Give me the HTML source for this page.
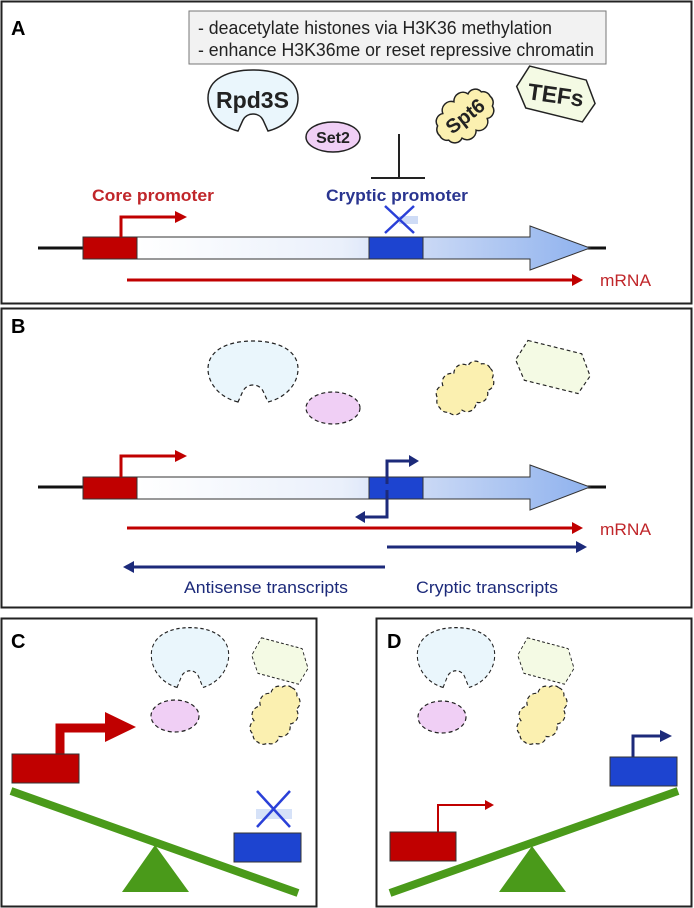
<!DOCTYPE html>
<html><head><meta charset="utf-8"><style>html,body{margin:0;padding:0;background:#fff}svg{display:block}text{font-family:"Liberation Sans",Arial,sans-serif}</style></head>
<body>
<svg width="694" height="908" viewBox="0 0 694 908" xmlns="http://www.w3.org/2000/svg">
<defs>
<linearGradient id="gb" x1="0" x2="1" y1="0" y2="0">
<stop offset="0" stop-color="#ffffff"/><stop offset="0.45" stop-color="#eaf0fb"/><stop offset="0.6" stop-color="#cfdcf6"/><stop offset="1" stop-color="#8fb2ee"/>
</linearGradient>
<path id="pac" d="M-15,30 C-35,25 -45,10 -45,-3 C-45,-22 -25,-31 0,-31 C25,-31 45,-22 45,-3 C45,10 35,25 15,30 L10,19 C6,11 -6,11 -10,19 Z"/>
<path id="cloud" d="M32,0 A8,8 0 0 1 27.7,9 A8,8 0 0 1 16,15.6 A9,9 0 0 1 0,18 A9,9 0 0 1 -16,15.6 A8,8 0 0 1 -27.7,9 A8,8 0 0 1 -32,0 A8,8 0 0 1 -27.7,-9 A8,8 0 0 1 -16,-15.6 A9,9 0 0 1 0,-18 A9,9 0 0 1 16,-15.6 A8,8 0 0 1 27.7,-9 A8,8 0 0 1 32,0 Z"/>
<path id="hex" d="M-30,-24 L28,-18 L40,4 L30,24 L-28,18 L-40,-2 Z"/>
</defs>

<!-- Panel A -->
<rect x="1.5" y="1.5" width="690" height="302" fill="#fff" stroke="#222" stroke-width="2"/>
<text x="11" y="35" font-size="20" font-weight="bold">A</text>
<rect x="189" y="11" width="417" height="53" fill="#f2f2f2" stroke="#777" stroke-width="1"/>
<text x="198" y="34" font-size="18" fill="#222" textLength="354" lengthAdjust="spacingAndGlyphs">- deacetylate histones via H3K36 methylation</text>
<text x="198" y="56" font-size="18" fill="#222" textLength="396" lengthAdjust="spacingAndGlyphs">- enhance H3K36me or reset repressive chromatin</text>
<use href="#pac" transform="translate(253,101)" fill="#eaf6fc" stroke="#222" stroke-width="1.5"/>
<text x="216" y="108" font-size="23" font-weight="bold" fill="#222" textLength="73" lengthAdjust="spacingAndGlyphs">Rpd3S</text>
<ellipse cx="333" cy="137" rx="27" ry="15" fill="#f0cff5" stroke="#222" stroke-width="1.5"/>
<text x="333" y="143" font-size="16" font-weight="bold" text-anchor="middle" fill="#222">Set2</text>
<g transform="translate(465,116) rotate(-38)">
<use href="#cloud" fill="#fbf0b0" stroke="#222" stroke-width="1.5"/>
<text x="0" y="7" font-size="20" font-weight="bold" text-anchor="middle" fill="#222">Spt6</text>
</g>
<g transform="translate(556,94) rotate(8)">
<use href="#hex" fill="#f4fae4" stroke="#222" stroke-width="1.5"/>
<text x="0" y="9" font-size="23" font-weight="bold" text-anchor="middle" fill="#222">TEFs</text>
</g>
<line x1="399" y1="134" x2="399" y2="178" stroke="#222" stroke-width="2"/>
<line x1="371" y1="178" x2="425" y2="178" stroke="#222" stroke-width="2"/>
<text x="92" y="201" font-size="17" font-weight="bold" fill="#c0262a" textLength="122" lengthAdjust="spacingAndGlyphs">Core promoter</text>
<text x="326" y="201" font-size="17" font-weight="bold" fill="#2a3590" textLength="142" lengthAdjust="spacingAndGlyphs">Cryptic promoter</text>
<line x1="38" y1="248" x2="606" y2="248" stroke="#111" stroke-width="3"/>
<path d="M137,237 L530,237 L530,226 L590,248 L530,270 L530,259 L137,259 Z" fill="url(#gb)" stroke="#333" stroke-width="1"/>
<rect x="83" y="237" width="54" height="22" fill="#c00000" stroke="#333" stroke-width="1"/>
<rect x="369" y="237" width="54" height="22" fill="#1d44d0" stroke="#333" stroke-width="1"/>
<path d="M121,237 L121,217 L176,217" fill="none" stroke="#c00000" stroke-width="3"/>
<path d="M175,211 L187,217 L175,223 Z" fill="#c00000"/>
<path d="M399,220 L418,220" stroke="#cfdcf6" stroke-width="8"/>
<path d="M385,206 L414,233 M414,206 L385,233" stroke="#2a40d8" stroke-width="2.5"/>
<line x1="127" y1="280" x2="572" y2="280" stroke="#c00000" stroke-width="3"/>
<path d="M572,274 L583,280 L572,286 Z" fill="#c00000"/>
<text x="600" y="286" font-size="17" fill="#c0262a" textLength="51" lengthAdjust="spacingAndGlyphs">mRNA</text>

<!-- Panel B -->
<rect x="1.5" y="308.5" width="690" height="299" fill="#fff" stroke="#222" stroke-width="2"/>
<text x="11" y="333" font-size="20" font-weight="bold">B</text>
<use href="#pac" transform="translate(253,372)" fill="#eaf6fc" stroke="#222" stroke-width="1.2" stroke-dasharray="4,3"/>
<ellipse cx="333" cy="408" rx="27" ry="16" fill="#f0cff5" stroke="#222" stroke-width="1.2" stroke-dasharray="4,3"/>
<use href="#cloud" transform="translate(465,388) rotate(-38)" fill="#fbf0b0" stroke="#222" stroke-width="1.2" stroke-dasharray="4,3"/>
<use href="#hex" transform="translate(553,367) rotate(8) scale(0.95)" fill="#f4fae4" stroke="#222" stroke-width="1.2" stroke-dasharray="4,3"/>
<line x1="38" y1="487" x2="606" y2="487" stroke="#111" stroke-width="3"/>
<path d="M137,477 L530,477 L530,465 L590,487 L530,510 L530,499 L137,499 Z" fill="url(#gb)" stroke="#333" stroke-width="1"/>
<rect x="83" y="477" width="54" height="22" fill="#c00000" stroke="#333" stroke-width="1"/>
<rect x="369" y="477" width="54" height="22" fill="#1d44d0" stroke="#333" stroke-width="1"/>
<path d="M121,477 L121,456 L176,456" fill="none" stroke="#c00000" stroke-width="3"/>
<path d="M175,450 L187,456 L175,462 Z" fill="#c00000"/>
<path d="M387,484 L387,461 L410,461" fill="none" stroke="#1c2a7a" stroke-width="3"/>
<path d="M409,455 L419,461 L409,467 Z" fill="#1c2a7a"/>
<path d="M387,490 L387,517 L364,517" fill="none" stroke="#1c2a7a" stroke-width="3"/>
<path d="M365,511 L355,517 L365,523 Z" fill="#1c2a7a"/>
<line x1="127" y1="528" x2="572" y2="528" stroke="#c00000" stroke-width="3"/>
<path d="M572,522 L583,528 L572,534 Z" fill="#c00000"/>
<text x="600" y="535" font-size="17" fill="#c0262a" textLength="51" lengthAdjust="spacingAndGlyphs">mRNA</text>
<line x1="387" y1="547" x2="576" y2="547" stroke="#1c2a7a" stroke-width="3"/>
<path d="M576,541 L587,547 L576,553 Z" fill="#1c2a7a"/>
<line x1="385" y1="567" x2="133" y2="567" stroke="#1c2a7a" stroke-width="3"/>
<path d="M134,561 L123,567 L134,573 Z" fill="#1c2a7a"/>
<text x="184" y="593" font-size="17" fill="#1c2a7a" textLength="164" lengthAdjust="spacingAndGlyphs">Antisense transcripts</text>
<text x="416" y="593" font-size="17" fill="#1c2a7a" textLength="142" lengthAdjust="spacingAndGlyphs">Cryptic transcripts</text>

<!-- Panel C -->
<rect x="1.5" y="618.5" width="315" height="288" fill="#fff" stroke="#222" stroke-width="2"/>
<text x="11" y="648" font-size="20" font-weight="bold">C</text>
<use href="#pac" transform="translate(190,658) scale(0.86,0.98)" fill="#eaf6fc" stroke="#222" stroke-width="1.2" stroke-dasharray="4,3"/>
<use href="#hex" transform="translate(280,661) rotate(8) scale(0.72,0.85)" fill="#f4fae4" stroke="#222" stroke-width="1.2" stroke-dasharray="4,3"/>
<ellipse cx="175" cy="716" rx="24" ry="16" fill="#f0cff5" stroke="#222" stroke-width="1.2" stroke-dasharray="4,3"/>
<use href="#cloud" transform="translate(275,715) rotate(-58) scale(1,0.95)" fill="#fbf0b0" stroke="#222" stroke-width="1.2" stroke-dasharray="4,3"/>
<path d="M60,754 L60,728 L106,728" fill="none" stroke="#c00000" stroke-width="9"/>
<path d="M105,712 L136,727 L105,742 Z" fill="#c00000"/>
<rect x="12" y="754" width="67" height="29" fill="#c00000" stroke="#333" stroke-width="1"/>
<line x1="11" y1="791" x2="298" y2="893" stroke="#4a9a1a" stroke-width="8"/>
<path d="M155,845 L189,892 L122,892 Z" fill="#4a9a1a"/>
<rect x="234" y="833" width="67" height="29" fill="#1d44d0" stroke="#333" stroke-width="1"/>
<path d="M256,814 L292,814" stroke="#d6e2f8" stroke-width="10"/>
<path d="M257,791 L290,827 M290,791 L257,827" stroke="#2a40d8" stroke-width="2.5"/>

<!-- Panel D -->
<rect x="376.5" y="618.5" width="315" height="288" fill="#fff" stroke="#222" stroke-width="2"/>
<text x="387" y="648" font-size="20" font-weight="bold">D</text>
<use href="#pac" transform="translate(456,658) scale(0.86,0.98)" fill="#eaf6fc" stroke="#222" stroke-width="1.2" stroke-dasharray="4,3"/>
<use href="#hex" transform="translate(546,661) rotate(8) scale(0.72,0.85)" fill="#f4fae4" stroke="#222" stroke-width="1.2" stroke-dasharray="4,3"/>
<ellipse cx="442" cy="717" rx="24" ry="16" fill="#f0cff5" stroke="#222" stroke-width="1.2" stroke-dasharray="4,3"/>
<use href="#cloud" transform="translate(542,715) rotate(-58) scale(1,0.95)" fill="#fbf0b0" stroke="#222" stroke-width="1.2" stroke-dasharray="4,3"/>
<path d="M633,757 L633,736 L665,736" fill="none" stroke="#1c2a7a" stroke-width="3"/>
<path d="M660,730 L672,736 L660,742 Z" fill="#1c2a7a"/>
<rect x="610" y="757" width="67" height="29" fill="#1d44d0" stroke="#333" stroke-width="1"/>
<path d="M438,832 L438,805 L486,805" fill="none" stroke="#c00000" stroke-width="2"/>
<path d="M485,800 L494,805 L485,810 Z" fill="#c00000"/>
<rect x="390" y="832" width="66" height="29" fill="#c00000" stroke="#333" stroke-width="1"/>
<line x1="390" y1="893" x2="678" y2="791" stroke="#4a9a1a" stroke-width="8"/>
<path d="M532,846 L566,892 L499,892 Z" fill="#4a9a1a"/>
</svg>
</body></html>
